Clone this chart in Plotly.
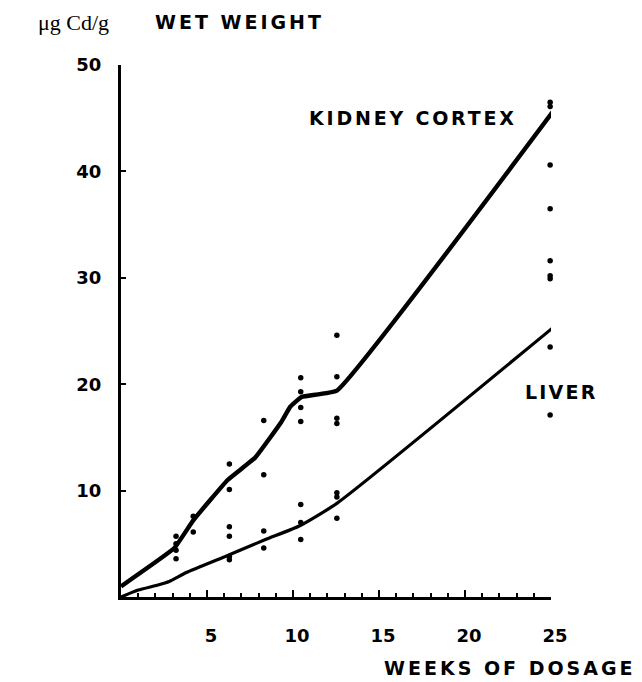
import plotly.graph_objects as go

# Measured points (weeks, µg Cd/g wet weight)
kidney_pts_x = [3.2, 3.2, 3.2, 4.2, 6.3, 6.3, 8.3, 8.3, 10.45, 10.45, 10.45, 10.45,
                12.55, 12.55, 12.55, 12.55,
                24.95, 24.95, 24.95, 24.95, 24.95, 24.95, 24.95]
kidney_pts_y = [5.7, 5.0, 4.4, 7.6, 12.5, 10.1, 16.6, 11.5, 20.6, 19.3, 17.8, 16.5,
                24.6, 20.7, 16.8, 16.3,
                46.5, 46.1, 40.6, 36.5, 31.6, 30.2, 29.9]
liver_pts_x = [3.2, 4.2, 6.3, 6.3, 6.3, 6.3, 8.3, 8.3, 10.45, 10.45, 10.45,
               12.55, 12.55, 12.55, 24.95, 24.95]
liver_pts_y = [3.6, 6.1, 6.6, 5.7, 3.8, 3.5, 6.2, 4.6, 8.7, 7.0, 5.4,
               9.8, 9.4, 7.4, 23.5, 17.1]

# Fitted curves
kidney_line_x = [0, 3.1, 4.2, 6.2, 7.8, 9.3, 9.85, 10.5, 12.55, 25.1]
kidney_line_y = [1.0, 4.6, 7.2, 11.0, 13.1, 16.4, 17.9, 18.8, 19.4, 45.6]
liver_line_x = [0, 1.0, 2.1, 2.8, 3.8, 6.2, 8.4, 10.4, 12.55, 25.1]
liver_line_y = [0, 0.65, 1.1, 1.45, 2.3, 3.9, 5.4, 6.7, 8.8, 25.3]

x_ticks = [5, 10, 15, 20, 25]
y_ticks = [10, 20, 30, 40, 50]


def spaced(s, sp):
    return '<span style="letter-spacing:%spx">%s</span>' % (sp, s)


fig = go.Figure()
fig.add_trace(go.Scatter(x=kidney_line_x, y=kidney_line_y, mode="lines",
                         line=dict(color="black", width=4.4, shape="spline", smoothing=0.3),
                         cliponaxis=False, showlegend=False))
fig.add_trace(go.Scatter(x=liver_line_x, y=liver_line_y, mode="lines",
                         line=dict(color="black", width=3.2, shape="spline", smoothing=0.5),
                         cliponaxis=False, showlegend=False))
fig.add_trace(go.Scatter(x=kidney_pts_x + liver_pts_x, y=kidney_pts_y + liver_pts_y,
                         mode="markers", marker=dict(color="black", size=5.5),
                         cliponaxis=False, showlegend=False))

bold = dict(family="DejaVu Sans", size=19, color="black", weight="bold")
tickbold = dict(family="DejaVu Sans", size=18, color="black", weight="bold")

# page body has an 8px margin: shrink the figure so it fits the window
W, H = 634, 674
L, R, T, B = 113, 543, 57, 589

fig.update_layout(
    width=W, height=H,
    margin=dict(l=L, r=W - R, t=T, b=H - B),
    paper_bgcolor="white", plot_bgcolor="white",
    xaxis=dict(range=[0, 25], showgrid=False, zeroline=False,
               showline=True, linecolor="black", linewidth=3,
               tickvals=x_ticks, ticktext=[str(v) for v in x_ticks],
               ticks="inside", ticklen=7, tickwidth=2,
               tickcolor="black", tickfont=tickbold, ticklabelstandoff=20,
               ticklabelshift=4,
               minor=dict(dtick=1, tick0=0, ticks="inside", ticklen=4,
                          tickwidth=2, tickcolor="black", showgrid=False)),
    yaxis=dict(range=[0, 50], showgrid=False, zeroline=False,
               showline=True, linecolor="black", linewidth=3,
               tickvals=y_ticks, ticktext=[str(v) for v in y_ticks],
               ticks="inside", ticklen=5, tickwidth=2,
               tickcolor="black", tickfont=tickbold, ticklabelstandoff=13),
)


def ann(text, px, py, font):
    fig.add_annotation(text=text, xref="paper", yref="paper",
                       x=(px - 121) / 430, y=(597 - py) / 532,
                       xanchor="center", yanchor="middle",
                       showarrow=False, font=font)


ann("μg Cd/g", 73, 22, dict(family="Liberation Serif", size=22, color="black"))
ann(spaced("WET WEIGHT", 3), 239, 22, bold)
ann(spaced("KIDNEY CORTEX", 2.8), 413, 118, bold)
ann(spaced("LIVER", 2.2), 561, 392, bold)
ann(spaced("WEEKS OF DOSAGE", 3.0), 510, 668, bold)

fig.write_html("out.html")
